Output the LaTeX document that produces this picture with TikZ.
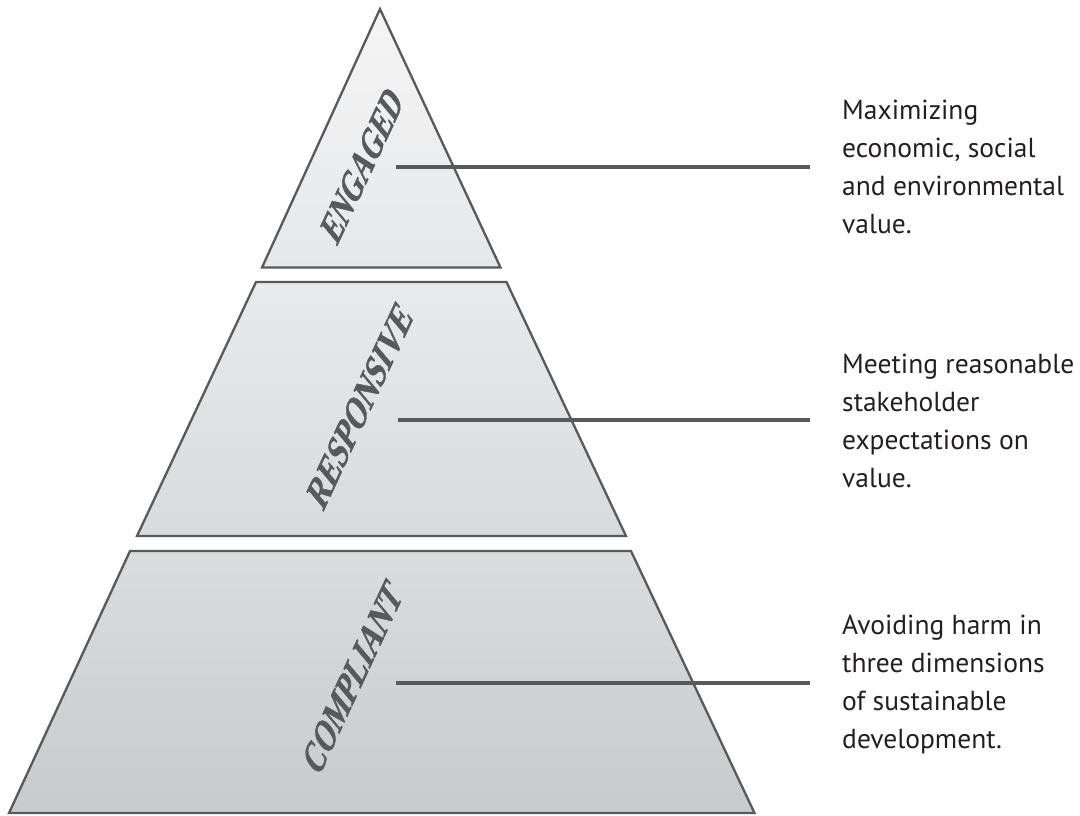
\documentclass[tikz,border=0pt]{standalone}
\usepackage{fontspec}
\setmainfont{PT Sans}
\newfontfamily\labelfont[BoldFeatures={FakeBold=1.2}]{Liberation Serif}
\definecolor{outl}{HTML}{58595B}
\definecolor{lbl}{HTML}{58595B}
\definecolor{txt}{HTML}{231F20}
\definecolor{ta}{HTML}{F5F5F6}
\definecolor{tb}{HTML}{E6E7E8}
\definecolor{ma}{HTML}{E9EAEB}
\definecolor{mb}{HTML}{D9DADB}
\definecolor{ba}{HTML}{DBDCDD}
\definecolor{bb}{HTML}{C9CACC}
\begin{document}
\begin{tikzpicture}[x=1pt,y=-1pt,
  tier/.style={draw=outl, line width=2.3pt, line join=miter},
  tierlabel/.style={font=\labelfont\bfseries\fontsize{36}{36}\selectfont, text=lbl, inner sep=0pt, transform shape},
  desc/.style={font=\fontsize{27.5}{38}\selectfont, text=txt, align=left, anchor=west, inner sep=0pt},
  leader/.style={draw=outl, line width=3.2pt, shorten >=32pt},
  slanted/.style={rotate=65, xslant=0.466, xscale=#1}]
\useasboundingbox (0,0) rectangle (1080,815);
% tiers
\draw[tier, top color=ta, bottom color=tb] (380,9) -- (500.5,267.5) -- (262,267.5) -- cycle;
\draw[tier, top color=ma, bottom color=mb] (256,282) -- (506.5,282) -- (626,536) -- (137,536) -- cycle;
\draw[tier, top color=ba, bottom color=bb] (130,551) -- (631,551) -- (754.5,813) -- (9,813) -- cycle;
% tier labels (rotated and slanted)
\begin{scope}[shift={(362,165)}, slanted=0.87]
  \node[tierlabel] (eng) at (0,0) {ENGAGED};
\end{scope}
\begin{scope}[shift={(360,405.5)}, slanted=0.93]
  \node[tierlabel] (res) at (0,0) {RESPONSIVE};
\end{scope}
\begin{scope}[shift={(352.5,677.5)}, slanted=0.89]
  \node[tierlabel] (com) at (0,0) {COMPLIANT};
\end{scope}
% descriptions
\node[desc] (d1) at (842,167) {Maximizing\\economic, social\\and environmental\\value.};
\node[desc] (d2) at (842,421) {Meeting reasonable\\stakeholder\\expectations on\\value.};
\node[desc] (d3) at (842,684) {Avoiding harm in\\three dimensions\\of sustainable\\development.};
% leaders
\coordinate (s1) at (396,167);
\coordinate (s2) at (398,420);
\coordinate (s3) at (396,683);
\draw[leader] (s1) -- (s1 -| d1.west);
\draw[leader] (s2) -- (s2 -| d2.west);
\draw[leader] (s3) -- (s3 -| d3.west);
\end{tikzpicture}
\end{document}
